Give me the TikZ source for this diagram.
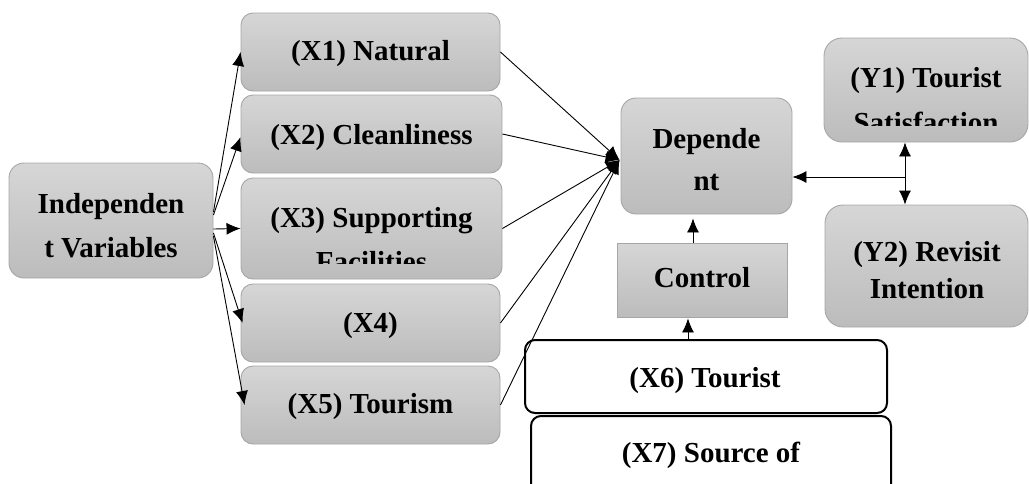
\documentclass[tikz,border=0pt]{standalone}
\usepackage{fontspec}
\setmainfont{Liberation Serif}
\usetikzlibrary{arrows.meta,calc}
\definecolor{gtop}{HTML}{D6D6D6}
\definecolor{gbot}{HTML}{BCBCBC}
\definecolor{gline}{HTML}{A6A6A6}
\tikzset{
  gbox/.style={draw=gline, line width=0.9pt, top color=gtop, bottom color=gbot, rounded corners=12pt, inner sep=0pt},
  wbox/.style={draw=black, line width=2pt, fill=white, rounded corners=10pt, inner sep=0pt},
  txt/.style={font=\fontsize{29}{35}\selectfont\bfseries, inner sep=0pt, anchor=base},
  arr/.style={-{Latex[length=14pt,width=12pt]}, line width=0.9pt, black},
}
\begin{document}
\begin{tikzpicture}[x=1pt,y=-1pt]
\useasboundingbox (0,0) rectangle (1029,483);
% boxes
\node[gbox, rounded corners=15pt, minimum width=204pt, minimum height=115pt] (ind) at (111,220.5) {};
\node[gbox, minimum width=259pt, minimum height=78pt] (x1) at (370.5,52) {};
\node[gbox, minimum width=261pt, minimum height=78pt] (x2) at (371.5,134) {};
\node[gbox, minimum width=261pt, minimum height=101pt] (x3) at (371.5,228.5) {};
\node[gbox, minimum width=259pt, minimum height=78pt] (x4) at (370.5,323) {};
\node[gbox, minimum width=259pt, minimum height=78pt] (x5) at (370.5,405) {};
\node[gbox, rounded corners=15pt, minimum width=171pt, minimum height=116pt] (dep) at (706.5,156) {};
\node[gbox, rounded corners=18pt, minimum width=204pt, minimum height=104pt] (y1) at (926,90) {};
\node[gbox, rounded corners=18pt, minimum width=203pt, minimum height=122pt] (y2) at (926.5,266) {};
\node[gbox, rounded corners=0pt, minimum width=170pt, minimum height=74pt] (ctrl) at (702,280) {};
\node[wbox, minimum width=362pt, minimum height=73pt] (x6) at (706,376.5) {};
\node[wbox, minimum width=360pt, minimum height=84pt] (x7) at (711,458) {};
% texts
\node[txt] (indt1) at (111,213) {Independen};
\node[txt] (indt2) at (111,257) {t Variables};
\node[txt] (x1t) at (370.5,60) {(X1) Natural};
\node[txt] (x2t) at (371.5,144) {(X2) Cleanliness};
\node[txt] (x3t) at (371.5,227) {(X3) Supporting};
\begin{scope}
\clip (241,178) rectangle (502,263);
\node[txt] (x3t2) at (371.5,271) {Facilities};
\end{scope}
\node[txt] (x4t) at (370.5,332) {(X4)};
\node[txt] (x5t) at (370.5,413) {(X5) Tourism};
\node[txt] (dept1) at (706.5,148) {Depende};
\node[txt] (dept2) at (706.5,190) {nt};
\node[txt] (y1t) at (926,87) {(Y1) Tourist};
\begin{scope}
\clip (824,38) rectangle (1028,125.5);
\node[txt] (y1t2) at (926,132) {Satisfaction};
\end{scope}
\node[txt] (y2t1) at (927,261) {(Y2) Revisit};
\node[txt] (y2t2) at (927,298) {Intention};
\node[txt] (ctrlt) at (702,287) {Control};
\node[txt] (x6t) at (705,387) {(X6) Tourist};
\node[txt] (x7t) at (711,462) {(X7) Source of};
% independent -> X
\draw[arr] ([yshift=8.5pt]ind.east) -- (x1.west);
\draw[arr] ([yshift=5.5pt]ind.east) -- ([yshift=-3pt]x2.west);
\draw[arr] ([yshift=-8.5pt]ind.east) -- (x3.west);
\draw[arr] ([yshift=-12.5pt]ind.east) -- ([xshift=2pt]x4.west);
\draw[arr] ([yshift=-15.5pt]ind.east) -- ([xshift=4pt]x5.west);
% X -> dependent
\coordinate (conv) at ([xshift=-1pt,yshift=-4pt]dep.west);
\draw[arr] (x1.east) -- (conv);
\draw[arr] (x2.east) -- (conv);
\draw[arr] (x3.east) -- (conv);
\draw[arr] (x4.east) -- (conv);
\draw[arr] (x5.east) -- (conv);
% Y
\coordinate (yj) at (905,177);
\draw[arr] (yj) -- (dep.east |- yj);
\draw[arr] (yj) -- (y1.south -| yj);
\draw[arr] (yj) -- (y2.north -| yj);
% control
\draw[arr, shorten >=4pt] ([xshift=-9pt]ctrl.north) -- ([xshift=-9pt]ctrl.north |- dep.south);
\draw[arr, shorten >=1pt] ([xshift=-18pt]x6.north) -- ([xshift=-18pt]x6.north |- ctrl.south);
\end{tikzpicture}
\end{document}
